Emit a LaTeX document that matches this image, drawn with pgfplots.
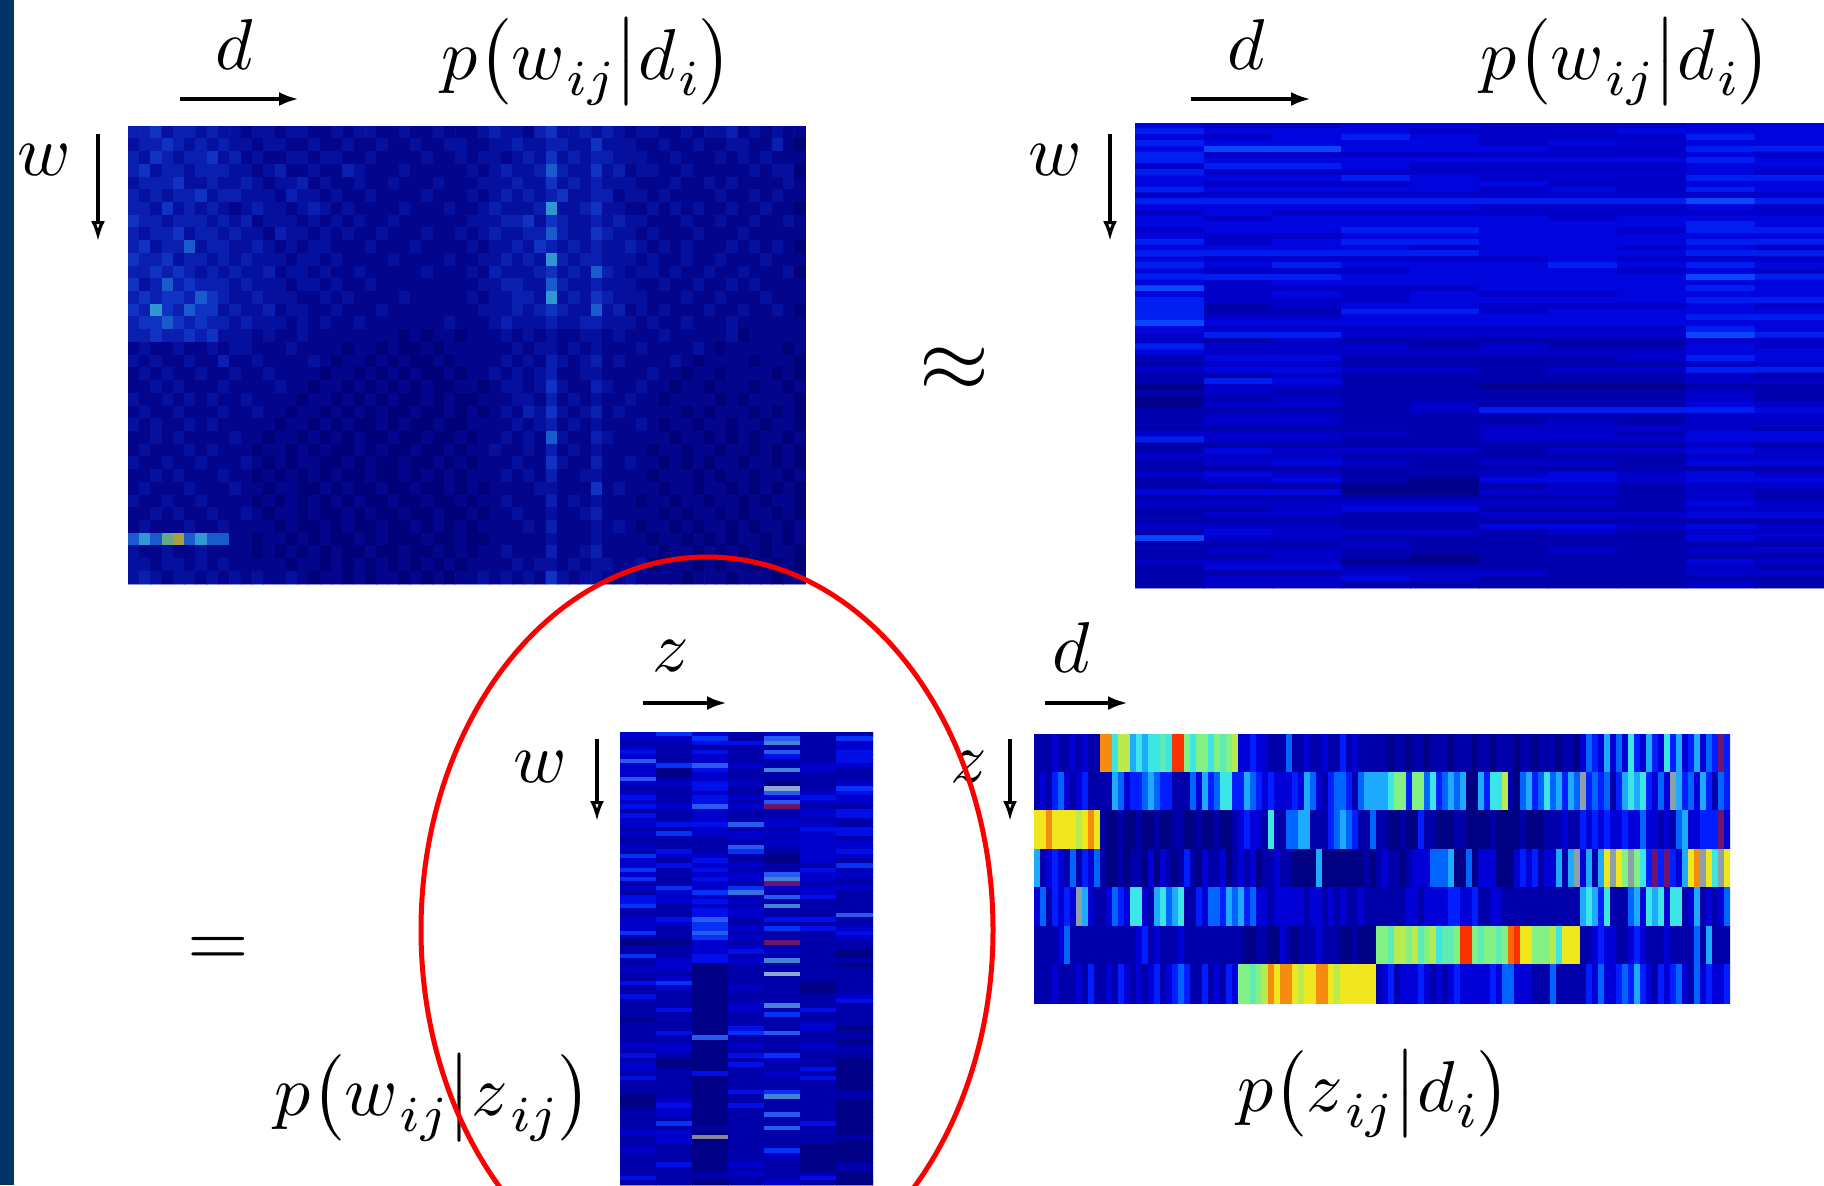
\documentclass[border=0pt]{standalone}
\usepackage{pgfplots}
\pgfplotsset{compat=1.18}
\usetikzlibrary{arrows.meta}
\definecolor{hbar}{RGB}{0,51,102}
\definecolor{hred}{RGB}{250,0,0}
\pgfplotsset{colormap={hm}{rgb255=(0,0,130) rgb255=(0,0,170) rgb255=(0,0,215) rgb255=(0,30,255) rgb255=(0,100,255) rgb255=(30,170,255) rgb255=(60,230,230) rgb255=(130,240,130) rgb255=(240,230,30) rgb255=(250,50,0) rgb255=(110,20,110) rgb255=(140,160,170)},
colormap={hmTL}{rgb255=(0,0,120) rgb255=(3,6,140) rgb255=(6,16,158) rgb255=(10,30,175) rgb255=(15,50,195) rgb255=(25,90,205) rgb255=(50,150,210) rgb255=(100,170,130) rgb255=(170,160,60) rgb255=(190,60,30) rgb255=(110,20,110) rgb255=(140,160,170)},
colormap={hmTR}{rgb255=(0,0,140) rgb255=(0,0,175) rgb255=(0,0,200) rgb255=(0,5,222) rgb255=(0,30,240) rgb255=(10,70,250) rgb255=(60,230,230) rgb255=(130,240,130) rgb255=(240,230,30) rgb255=(250,50,0) rgb255=(110,20,110) rgb255=(140,160,170)},
colormap={hmMid}{rgb255=(0,0,135) rgb255=(0,0,170) rgb255=(0,0,205) rgb255=(0,15,232) rgb255=(5,50,245) rgb255=(40,90,240) rgb255=(70,130,215) rgb255=(140,170,210) rgb255=(240,230,30) rgb255=(250,50,0) rgb255=(110,20,110) rgb255=(140,130,150)}}
\newcount\hx \newcount\hy \newcount\hn
\def\hstop{x}
\def\hstart#1{\hn=#1\relax \hy=0\relax \def\hc{}}
\def\hparse#1 {\def\hv{#1}\ifx\hv\hstop\let\hnext\hpad\else\def\hlast{#1}\ifnum\hx<\hn \edef\hc{\hc\space(\the\hx,\the\hy)[#1]}\advance\hx by 1\relax\fi\let\hnext\hparse\fi\hnext}
\def\hpad{\ifnum\hx<\hn \edef\hc{\hc\space(\the\hx,\the\hy)[\hlast]}\advance\hx by 1\relax\expandafter\hpad\else\advance\hy by 1\relax\fi}
\def\R#1{\hx=0\relax\hparse#1 x }
\newcommand\heat[8]{%
 \begin{axis}[at={(#4pt,#5pt)},anchor=north west,scale only axis,width=#6pt,height=#7pt,hide axis,
  xmin=-0.5,xmax=#2-0.5,ymin=-0.5,ymax=#3-0.5,y dir=reverse,enlargelimits=false,
  colormap name=#8,point meta min=0,point meta max=11]
 \edef\temp{\noexpand\addplot[matrix plot*,point meta=explicit,mesh/cols=#2] coordinates {#1};}\temp
 \end{axis}}
\newcommand\sub[1]{\kern.03em\lower.22em\hbox{$\scriptstyle #1$}\kern.01em}
% top-left p(w|d)
\hstart{60}
\R{3 3 4 2 3 3 2 3 2 2 1 2 2 1 2 2 1 1 2 1 2 2 1 1 2 1 1 2 1 1 1 2 3 2 2 1 3 4 2 2 3 2 3 2 1 2 2 1 1 2 1 2 2 3 1 2 1 2 1 1}
\R{2 3 3 4 3 2 3 2 3 2 2 1 2 2 1 1 2 1 1 2 1 1 2 1 1 2 1 1 2 2 1 1 2 2 3 2 2 3 3 2 2 4 2 2 2 1 1 2 1 1 2 1 1 2 2 1 1 3 1 0}
\R{3 2 4 3 2 3 3 4 2 3 1 2 1 1 2 2 1 2 2 1 1 2 1 1 1 1 2 1 1 2 1 2 2 1 2 3 2 4 2 3 2 3 3 2 2 2 1 1 2 1 1 1 2 1 2 1 2 1 1 1}
\R{3 4 2 3 3 2 3 3 3 2 2 1 2 3 1 1 2 1 1 3 2 1 1 1 2 1 1 1 1 1 2 1 2 3 2 2 3 5 3 2 2 4 2 3 1 2 2 1 1 2 1 1 1 1 1 2 1 2 2 0}
\R{2 3 3 3 4 2 2 3 2 2 3 2 1 2 2 3 1 2 1 1 2 1 1 2 1 1 1 2 1 1 1 2 2 2 3 2 2 4 2 3 2 3 2 2 2 1 1 1 2 1 1 2 1 2 1 1 1 1 2 1}
\R{3 2 3 2 3 3 4 2 3 3 2 2 2 1 3 2 2 1 2 1 1 2 1 1 1 1 2 1 1 1 2 1 2 3 2 3 2 3 4 2 2 3 3 1 2 2 1 2 1 1 1 1 2 1 1 2 1 2 1 1}
\R{3 3 2 4 2 3 2 3 2 1 2 3 2 2 1 2 3 2 1 2 1 1 1 1 2 1 1 1 2 1 1 2 3 2 2 2 3 6 2 2 3 4 2 2 1 1 2 1 2 1 2 1 1 2 1 1 2 1 1 0}
\R{4 3 3 2 3 3 3 2 3 2 3 1 2 2 2 1 2 1 2 1 2 1 1 2 1 1 1 1 1 1 2 2 2 3 3 4 2 4 3 2 2 3 2 3 2 2 1 1 1 2 1 1 2 1 1 2 1 1 2 1}
\R{3 2 3 3 4 2 3 3 2 3 2 2 1 3 2 2 1 2 1 2 1 1 2 1 1 1 2 1 1 2 1 2 3 2 2 3 3 5 3 2 2 4 3 2 2 1 2 1 1 1 2 1 1 1 2 1 1 1 1 1}
\R{3 4 2 3 3 5 2 3 3 2 2 3 2 1 2 1 2 2 1 1 1 2 1 1 1 2 1 1 1 1 2 1 2 2 3 2 4 3 2 3 2 3 2 2 3 2 1 2 1 2 1 1 1 2 1 2 1 2 1 0}
\R{4 3 3 4 2 3 3 2 3 2 3 2 2 2 1 2 2 1 2 1 1 1 1 2 1 1 1 1 2 1 1 2 2 3 2 3 2 6 3 2 3 3 2 2 2 1 2 1 1 2 1 1 2 1 1 1 2 1 1 1}
\R{3 3 4 3 4 3 2 3 2 3 2 2 3 1 2 2 1 2 1 1 2 1 1 1 1 1 2 1 1 1 2 1 3 2 2 2 3 4 2 3 2 5 3 2 1 2 2 1 2 1 1 2 1 1 2 1 1 1 2 0}
\R{4 2 3 5 3 4 3 3 3 2 3 2 2 2 1 2 2 1 2 1 1 2 1 1 1 1 1 1 1 1 1 2 2 3 3 2 2 5 3 2 2 3 2 2 2 1 1 2 1 1 2 1 1 2 1 2 1 1 1 1}
\R{3 4 3 4 4 3 5 4 3 2 2 3 2 2 2 1 1 2 1 2 1 1 1 1 2 1 1 1 1 1 2 1 2 2 3 3 2 6 2 3 2 4 3 2 2 2 1 1 1 2 1 1 2 1 1 1 2 1 1 1}
\R{4 3 6 4 3 5 4 4 2 3 2 2 3 1 2 2 1 1 2 1 1 1 2 1 1 1 1 1 1 1 1 2 2 2 3 2 3 4 3 2 2 5 2 3 1 2 1 2 1 1 1 2 1 1 2 1 1 2 1 0}
\R{3 4 4 5 4 3 4 3 3 2 3 2 2 2 1 2 1 2 1 1 2 1 1 1 1 1 1 1 2 1 1 1 2 3 2 2 2 3 2 2 3 3 2 2 2 1 2 1 1 2 1 1 1 2 1 1 1 1 1 1}
\R{3 3 4 3 3 4 3 4 2 2 2 1 2 1 1 2 1 1 1 1 1 1 1 1 0 1 0 1 1 0 1 1 1 2 1 2 1 2 1 1 2 2 1 2 1 1 1 2 1 1 1 1 1 2 0 1 1 1 1 1}
\R{1 2 1 1 2 1 1 2 1 2 2 1 1 1 2 1 1 1 1 0 1 1 0 1 0 0 1 0 1 1 1 1 1 1 2 1 2 2 1 2 1 2 1 1 1 2 1 1 1 1 2 1 0 1 1 1 1 1 0 1}
\R{2 1 2 1 1 2 1 1 3 1 1 2 1 1 1 1 2 1 0 1 1 0 1 0 1 0 0 1 0 1 1 1 1 2 1 2 1 3 2 1 2 3 1 2 1 1 1 1 2 1 0 1 1 1 1 0 1 1 1 0}
\R{1 2 1 2 1 1 2 1 1 2 1 1 2 1 1 1 1 0 1 1 0 1 0 1 0 1 0 0 1 0 1 1 2 1 2 1 2 3 1 1 2 2 1 1 1 1 2 1 1 0 1 1 0 1 1 1 1 0 1 0}
\R{1 1 2 1 2 1 1 1 2 1 1 1 1 2 1 1 0 1 1 0 1 0 1 0 1 0 1 0 0 1 1 0 1 2 2 1 2 4 2 1 1 3 2 1 1 2 1 1 0 1 1 0 1 1 1 0 1 1 0 1}
\R{2 1 1 2 1 2 1 2 1 1 2 1 1 1 1 0 1 1 0 1 0 1 0 1 0 0 1 0 1 0 0 1 1 1 2 2 1 3 1 2 1 2 1 1 2 1 1 0 1 1 1 1 0 1 0 1 1 1 1 0}
\R{1 2 1 1 2 1 1 1 2 1 1 2 1 1 0 1 1 0 1 0 1 0 1 0 0 1 0 0 1 0 1 0 1 2 1 3 2 4 2 1 2 3 1 2 1 1 1 1 1 0 1 0 1 1 1 0 1 0 1 0}
\R{2 1 2 1 1 2 1 2 1 1 1 1 1 0 1 1 0 1 0 1 0 0 1 0 1 0 0 1 0 0 1 1 1 1 2 1 2 3 1 2 1 2 1 1 1 2 1 0 1 1 0 1 1 0 1 1 0 1 1 0}
\R{1 1 2 1 2 1 1 1 1 2 1 1 0 1 1 0 1 0 1 0 1 0 0 1 0 0 1 0 0 1 0 1 1 2 1 2 1 5 2 1 1 3 2 1 1 1 1 1 0 1 1 0 1 0 1 0 1 1 0 1}
\R{1 2 1 1 1 2 1 2 1 1 1 0 1 1 0 1 0 1 0 0 1 0 1 0 0 1 0 0 1 0 1 1 2 1 1 2 1 3 1 2 1 2 1 1 1 1 0 1 1 0 1 1 0 1 1 0 1 0 1 0}
\R{2 1 1 2 1 1 2 1 1 1 2 1 0 1 0 1 1 0 0 1 0 1 0 0 1 0 0 1 0 1 0 1 1 1 2 1 1 4 2 1 1 3 1 1 2 1 1 0 1 0 1 0 1 1 0 1 1 0 1 0}
\R{1 1 2 1 2 1 1 1 2 1 1 0 1 0 1 0 1 0 1 0 0 1 0 0 1 0 1 0 1 0 1 1 1 2 1 2 1 3 1 1 2 2 1 1 1 1 0 1 1 1 0 1 0 1 1 0 1 1 0 1}
\R{1 2 1 1 1 2 1 1 1 2 1 1 0 1 1 0 0 1 0 1 0 0 1 0 0 1 0 0 1 0 1 0 1 1 1 1 2 2 1 1 1 4 1 2 1 1 1 0 1 1 0 1 1 0 1 0 1 0 1 0}
\R{2 1 1 2 1 1 2 1 1 1 1 0 1 0 1 0 1 0 1 0 1 0 0 1 0 0 1 0 0 1 0 1 1 2 1 1 1 3 1 2 1 2 1 1 1 0 1 1 0 1 1 0 1 1 0 1 0 1 1 0}
\R{1 1 2 1 2 1 1 2 1 1 2 1 0 1 1 0 1 0 0 1 0 1 0 0 1 0 0 1 0 0 1 0 1 1 2 1 1 2 1 1 2 3 1 1 1 1 1 0 1 0 1 1 0 1 0 1 1 0 1 0}
\R{1 2 1 1 1 2 1 1 2 1 1 1 1 0 1 0 0 1 0 1 0 0 1 0 0 1 0 1 0 1 0 1 1 1 1 2 1 3 1 1 1 2 1 2 1 0 1 1 0 1 0 1 1 0 1 0 1 1 0 1}
\R{5 6 5 7 8 5 6 5 5 1 1 0 1 1 0 1 0 1 0 0 1 0 1 0 0 0 1 0 0 1 0 0 1 1 1 1 1 2 1 1 1 2 1 1 1 1 0 1 1 0 1 0 1 0 1 1 0 1 0 1}
\R{2 1 1 2 1 1 2 1 1 1 1 0 1 0 1 0 1 0 1 0 0 1 0 0 1 0 0 1 0 1 0 1 1 2 1 1 1 3 1 1 2 3 1 1 1 1 1 0 1 1 0 1 0 1 0 1 0 1 1 0}
\R{2 2 1 2 2 1 2 1 2 1 1 1 1 1 0 1 1 0 1 0 1 0 1 0 1 0 1 0 1 0 1 1 1 1 2 1 2 2 1 2 1 2 2 1 1 2 0 1 1 1 0 1 0 1 1 0 1 0 1 0}
\R{2 3 2 1 2 2 1 2 1 2 1 2 1 1 2 1 0 1 1 0 1 0 1 1 0 1 0 1 0 1 1 2 1 2 1 2 1 4 2 1 2 2 1 1 2 1 1 1 1 0 1 1 1 0 1 1 1 0 1 1}
\let\hcA\hc
% top-right p(w|d)
\hstart{10}
\R{3 2 2 3 3 2 2 2 3 3}
\R{4 3 3 3 2 2 2 3 3 3}
\R{3 2 3 4 3 2 2 2 4 3}
\R{4 3 3 3 3 2 3 2 3 3}
\R{3 5 5 3 3 3 2 2 4 4}
\R{4 2 2 2 2 2 2 2 3 2}
\R{4 3 3 3 3 3 3 3 4 3}
\R{2 4 4 3 2 2 2 2 3 3}
\R{4 2 2 2 2 2 2 2 3 2}
\R{3 3 3 4 3 2 2 2 4 4}
\R{3 2 2 2 3 3 2 2 3 3}
\R{4 3 3 3 3 2 3 2 4 3}
\R{2 2 2 2 2 2 2 2 2 2}
\R{4 4 4 4 4 4 4 4 5 4}
\R{3 3 3 3 3 2 2 2 3 2}
\R{2 3 2 2 2 2 2 2 2 2}
\R{3 2 3 3 3 3 2 3 3 3}
\R{3 3 3 3 3 3 3 3 4 3}
\R{2 3 3 4 4 3 3 2 4 4}
\R{3 2 2 3 3 3 3 3 3 3}
\R{4 2 3 4 4 3 3 3 4 4}
\R{3 3 3 3 2 3 3 2 3 2}
\R{4 4 4 4 4 3 3 3 4 4}
\R{3 2 2 2 2 2 3 2 2 2}
\R{4 3 4 3 3 3 4 3 4 3}
\R{3 2 2 2 3 3 3 2 3 2}
\R{4 4 4 3 3 3 3 3 5 4}
\R{3 2 3 3 3 3 3 3 3 3}
\R{5 2 2 2 2 3 3 3 4 3}
\R{3 2 3 2 3 2 2 3 3 3}
\R{4 2 2 2 3 3 3 3 4 4}
\R{4 1 2 3 3 2 2 2 3 2}
\R{4 1 1 4 4 2 3 3 3 3}
\R{4 2 2 3 3 3 3 3 4 4}
\R{5 3 3 3 3 3 3 3 3 3}
\R{3 2 2 2 2 2 2 2 4 3}
\R{2 4 4 2 2 2 2 2 5 4}
\R{2 1 2 1 1 1 1 1 2 2}
\R{4 2 2 2 1 2 1 1 3 2}
\R{3 2 2 2 2 2 2 2 3 3}
\R{1 3 3 1 1 1 1 2 4 3}
\R{1 2 2 1 1 1 1 1 2 2}
\R{2 3 3 2 2 1 2 2 4 4}
\R{1 1 2 1 1 1 1 1 2 1}
\R{1 4 3 1 1 1 1 1 2 2}
\R{0 2 2 1 1 0 0 0 1 1}
\R{1 2 1 1 1 1 1 1 2 1}
\R{0 1 2 1 1 1 1 1 2 1}
\R{0 2 2 1 2 1 1 1 3 2}
\R{1 1 1 1 2 4 4 4 4 3}
\R{1 2 2 1 1 1 1 1 2 2}
\R{1 2 2 1 1 1 2 1 2 2}
\R{1 1 1 1 1 2 2 2 2 1}
\R{2 2 2 2 1 2 2 1 3 3}
\R{4 2 2 1 1 2 2 2 3 3}
\R{1 1 1 1 1 1 1 1 2 1}
\R{1 3 2 2 2 1 2 2 3 2}
\R{2 2 2 1 1 1 1 1 2 2}
\R{1 2 3 2 1 2 2 1 3 3}
\R{1 1 1 1 1 1 1 1 1 1}
\R{2 3 2 1 1 2 3 2 3 2}
\R{1 2 3 1 0 3 3 2 3 3}
\R{1 1 1 0 0 1 2 1 2 2}
\R{3 3 3 0 0 2 2 1 2 1}
\R{1 1 1 1 1 1 1 1 2 1}
\R{2 2 2 2 2 2 2 1 3 2}
\R{1 1 2 3 3 1 1 1 2 2}
\R{1 2 2 1 1 2 2 2 3 3}
\R{1 1 1 1 1 1 1 1 1 1}
\R{2 2 2 1 1 3 3 2 3 2}
\R{1 3 2 2 2 1 2 1 2 2}
\R{5 2 2 1 1 1 1 1 3 2}
\R{1 1 1 2 1 1 1 1 1 1}
\R{1 2 2 1 1 1 2 1 2 2}
\R{1 1 2 1 0 1 1 1 1 1}
\R{2 2 2 0 0 1 1 1 3 2}
\R{1 3 3 1 1 1 1 1 2 1}
\R{1 1 1 2 2 2 1 1 2 2}
\R{1 2 2 3 2 1 1 1 1 1}
\R{1 2 2 1 1 1 1 1 2 1}
\let\hcB\hc
% bottom middle p(w|z)
\hstart{7}
\R{2 4 2 1 2 1 1}
\R{2 2 4 1 5 1 4}
\R{1 1 3 3 6 1 2}
\R{2 1 1 1 1 1 2}
\R{3 1 3 1 5 1 3}
\R{2 1 2 1 3 1 3}
\R{5 1 2 1 1 1 3}
\R{2 4 5 2 1 2 2}
\R{2 0 3 1 6 2 1}
\R{2 0 2 1 1 1 1}
\R{5 1 2 1 1 1 1}
\R{2 2 3 2 0 1 2}
\R{1 1 3 1 7 1 4}
\R{2 1 2 1 5 2 3}
\R{3 1 3 2 2 3 2}
\R{2 1 3 1 5 2 2}
\R{3 2 5 2 10 1 1}
\R{1 1 2 1 1 2 3}
\R{3 1 2 1 1 2 3}
\R{2 1 2 1 2 1 1}
\R{2 3 3 5 2 2 1}
\R{1 1 2 1 1 3 3}
\R{2 4 2 2 2 2 3}
\R{1 1 1 2 1 2 1}
\R{1 1 1 1 2 2 2}
\R{2 1 1 5 1 2 2}
\R{1 3 1 4 1 2 3}
\R{4 2 2 1 0 2 2}
\R{2 1 3 1 0 2 1}
\R{2 3 2 2 1 1 4}
\R{4 1 3 1 1 3 1}
\R{2 1 2 2 5 2 2}
\R{4 1 3 2 6 2 1}
\R{1 1 2 1 10 1 1}
\R{2 4 2 4 2 2 2}
\R{1 2 4 5.5 1 2 1}
\R{3 2 2 1 5 3 1}
\R{3 2 3 2 1 1 1}
\R{4 1 2 1 6 1 1}
\R{1 1 3 2 1 1 1}
\R{1 1 3 2 1 1 5}
\R{2 3 5 1 3 3 1}
\R{2 2 4 1 1 1 1}
\R{2 1 4 2 4 3 2}
\R{4 1 5 1 1 1 3}
\R{1 1 4 2 1 1 2}
\R{0 0 2 1 10 1 1}
\R{1 1 2 2 1 1 1}
\R{1 1 2 3 2 1 0}
\R{4 1 3 1 1 1 0}
\R{1 2 3 2 6 1 1}
\R{1 2 0 1 1 1 0}
\R{2 2 0 1 1 1 1}
\R{1 1 0 1 7 1 1}
\R{1 2 0 1 1 1 1}
\R{3 4 0 1 1 0 1}
\R{1 2 0 2 1 0 1}
\R{1 1 0 1 1 0 1}
\R{3 1 0 1 1 1 2}
\R{1 1 0 1 1 1 3}
\R{1 1 0 2 6 1 1}
\R{1 3 0 2 1 3 1}
\R{1 1 0 1 4 1 1}
\R{0 1 0 1 1 1 1}
\R{1 1 0 1 1 2 1}
\R{1 1 0 3 1 2 0}
\R{1 3 0 4 5 1 1}
\R{1 1 5 1 1 1 1}
\R{1 1 0 1 1 1 0}
\R{2 2 0 2 1 2 1}
\R{1 2 0 1 1 1 1}
\R{3 1 0 3 4 1 1}
\R{1 0 0 1 2 1 0}
\R{2 0 0 3 1 1 0}
\R{2 1 0 1 1 3 0}
\R{1 1 3 1 2 1 0}
\R{3 1 0 1 1 3 0}
\R{1 1 0 1 1 1 0}
\R{1 1 0 1 1 1 0}
\R{1 1 0 3 4 1 1}
\R{0 1 0 1 6 1 1}
\R{0 2 0 1 1 1 0}
\R{0 3 0 3 1 1 0}
\R{1 2 0 1 1 1 0}
\R{1 2 0 1 5 1 0}
\R{1 1 0 1 1 1 0}
\R{1 4 0 1 1 3 0}
\R{1 1 1 1 5 1 0}
\R{2 2 0 1 1 1 0}
\R{1 2 11 1 1 1 1}
\R{1 2 0 1 1 1 0}
\R{1 1 0 1 1 0 0}
\R{2 1 0 1 4 0 0}
\R{1 1 0 1 2 0 0}
\R{1 1 0 1 1 0 0}
\R{1 3 0 2 1 0 1}
\R{1 1 0 1 1 0 1}
\R{1 1 1 2 1 1 0}
\R{3 1 1 1 1 3 0}
\R{1 1 0 1 2 1 0}
\let\hcC\hc
% bottom right p(z|d)
\hstart{116}
\R{1 1 1 2 1 1 2 1 2 1 1 8.5 8.5 6 7.5 7.5 5 6 5 6 6 6.5 6 9 9 7 6 7 7 6 7 6.5 7 7.5 2 2 3 2 2 1 1 1 4 1 1 2 1 1 2 1 1 3 1 2 1 1 1 1 1 0 1 1 0 1 1 0 1 1 1 0 1 1 1 0 1 1 0 1 1 1 0 1 1 0 1 1 1 0 1 1 0 2 4 3 2 5 2 4 2 6 3 2 5 3 2 6 3 5 2 3 5 2 4 3 10 3}
\R{1 2 1 3 4 2 1 2 3 1 1 1 1 5 4 2 3 3 4 5 4 3 3 1 1 1 4 2 5 3 4 6 6 3 3 5 4 3 2 3 2 2 2 3 2 5 4 2 1 3 4 4 3 1 4 5 5 5 5 6 7 7 3 7 7 4 6 3 4 5 4 5 0 0 5 3 6 6 7.5 1 0 4 5 3 4 6 4 5 3 5 4 11 3 4 3 4 1 3 5 6 5 6 3 2 4 2 11 5 3 4 2 5 3 1 4 3}
\R{8 8 8.5 8 8 8 8 7.5 8 8.5 8 1 0 0 1 0 0 1 0 0 1 0 0 1 1 0 0 1 0 0 1 0 0 1 2 3 2 2 1 6 1 1 4 4 5 5 1 1 1 3 4 5 4 3 1 1 4 1 1 0 0 1 0 0 3 1 1 0 0 0 1 1 0 0 0 0 1 0 0 0 0 1 0 0 0 1 1 1 2 1 1 3 2 3 2 3 2 2 3 2 2 4 2 2 1 2 1 4 5 2 2 3 3 3 10 2}
\R{5 1 2 3 2 1 4 1 3 2 4 1 0 0 1 0 1 1 0 2 0 2 1 0 1 3 1 0 2 1 1 2 0 1 2 1 2 0 1 1 2 1 1 0 0 0 0 5 0 0 0 0 0 0 0 1 0 1 2 1 1 0 1 2 2 2 4 4 4 5 0 0 4 0 2 2 2 0 0 0 2 3 2 3 1 2 2 5 1 5 11 2 5 1 5 8 11 8 7 11 7 6 3 10 3 10 3 2 5 8 8.5 11 8 6 11 8}
\R{2 4 1 3 2 3 2 11 5 2 1 1 2 4 3 2 6 6 2 1 5 6 4 5 6 1 1 3 2 4 4 3 5 4 5 3 4 2 2 1 2 2 2 2 2 1 2 2 1 2 1 2 1 1 2 1 1 1 1 1 1 1 2 2 1 2 2 2 2 3 3 2 2 3 1 1 2 2 1 1 1 1 1 1 1 1 1 1 1 1 1 5 6 5 3 6 1 1 1 4 5 2 6 5 6 2 6 6 1 2 5 1 2 1 2 4}
\R{1 1 1 1 2 4 1 1 1 1 1 1 1 1 1 1 1 2 3 1 2 1 1 1 2 1 1 1 1 1 1 1 1 1 1 0 0 1 1 0 0 2 1 0 1 1 1 2 1 1 1 0 0 1 0 0 0 7 7 6.5 7.5 7.5 7 7.5 6.5 7 7.5 6 6.5 6.5 7 9 9 7 6.5 7 7 6.5 7 8.7 9 8 8 7 7 7 7.5 6 8 8 8 1 1 2 3 2 2 1 1 2 3 2 1 1 1 2 1 1 1 1 4 1 5 1 1 1}
\R{1 1 1 2 1 1 1 2 1 3 1 1 2 1 3 2 1 2 1 2 3 1 2 3 4 3 1 1 3 1 2 1 3 2 7 7 6.5 7 7.5 8.5 8 8.5 8.5 8 7.5 8 8 8.5 8.5 8 7.5 8 8 8 8 8 8 1 2 3 1 2 2 2 3 2 1 2 1 2 3 2 2 2 2 2 3 2 4 4 2 2 2 1 1 1 4 1 1 1 1 1 3 2 4 2 2 3 4 3 5 3 2 1 3 2 3 4 2 1 4 2 3 2 2 3}
\let\hcD\hc
\begin{document}
\begin{tikzpicture}
\path[use as bounding box] (0,0) rectangle (912pt,-592.5pt);
\fill[hbar] (0,0) rectangle (7pt,-592.5pt);
\heat{\hcA}{60}{36}{64}{-63}{339}{229}{hmTL}
\heat{\hcB}{10}{80}{567.5}{-61.5}{344.5}{232.5}{hmTR}
\heat{\hcC}{7}{100}{310}{-366}{126.5}{226.5}{hmMid}
\heat{\hcD}{116}{7}{517}{-367}{348}{134.5}{hm}
\tikzset{lab/.style={scale=3.6,inner sep=0pt,text=black},
 harr/.style={line width=2pt,-{Latex[open,length=10pt,width=7pt]}},
 varr/.style={line width=1.6pt,-{Latex[open,length=10pt,width=7pt]}}}
\node[lab] at (117pt,-22.2pt) {$d$};
\draw[harr] (90pt,-49.5pt) -- (149.5pt,-49.5pt);
\node[lab] at (293.5pt,-31pt) {$p\bigl(w\sub{ij}\big|d\sub{i}\bigr)$};
\node[lab] at (22pt,-80pt) {$w$};
\draw[varr] (49pt,-67pt) -- (49pt,-120.5pt);
\node[lab] at (623pt,-22.2pt) {$d$};
\draw[harr] (595.5pt,-49.5pt) -- (655.5pt,-49.5pt);
\node[lab] at (813pt,-31pt) {$p\bigl(w\sub{ij}\big|d\sub{i}\bigr)$};
\node[lab] at (527.5pt,-80pt) {$w$};
\draw[varr] (555pt,-67pt) -- (555pt,-120.5pt);
\node[lab,scale=1.25] at (477pt,-185pt) {$\approx$};
\node[lab,scale=1.1] at (109pt,-476pt) {$=$};
\node[lab] at (335.5pt,-328pt) {$z$};
\draw[harr] (321.5pt,-351.5pt) -- (363.5pt,-351.5pt);
\node[lab] at (270pt,-383.5pt) {$w$};
\draw[varr] (298.5pt,-369.5pt) -- (298.5pt,-410.5pt);
\node[lab] at (535.5pt,-323.5pt) {$d$};
\draw[harr] (522.5pt,-351.5pt) -- (564pt,-351.5pt);
\node[lab] at (484.5pt,-383.5pt) {$z$};
\draw[varr] (505pt,-369.5pt) -- (505pt,-410.5pt);
\node[lab] at (216.5pt,-549pt) {$p\bigl(w\sub{ij}\big|z\sub{ij}\bigr)$};
\node[lab] at (687pt,-547pt) {$p\bigl(z\sub{ij}\big|d\sub{i}\bigr)$};
\begin{scope}
\clip (0,0) rectangle (912pt,-592.5pt);
\draw[hred,line width=2.5pt] (353.5pt,-465pt) ellipse [x radius=143pt,y radius=186.5pt];
\end{scope}
\end{tikzpicture}
\end{document}
